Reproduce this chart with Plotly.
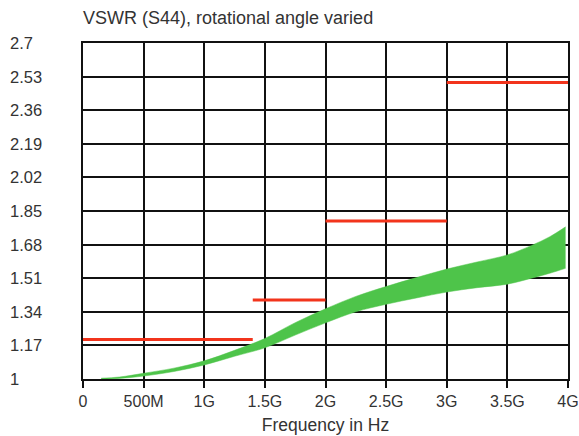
import plotly.graph_objects as go

# ---- data ----
freq_ghz = [0.15, 0.3, 0.5, 0.75, 1.0, 1.25, 1.5, 1.75, 2.0, 2.25, 2.5, 2.75, 3.0, 3.25, 3.5, 3.7, 3.85, 3.98]
vswr_upper = [1.004, 1.010, 1.029, 1.055, 1.092, 1.145, 1.205, 1.285, 1.355, 1.418, 1.468, 1.513, 1.556, 1.592, 1.628, 1.676, 1.72, 1.77]
vswr_lower = [1.000, 1.003, 1.015, 1.038, 1.071, 1.115, 1.158, 1.222, 1.284, 1.340, 1.378, 1.41, 1.44, 1.462, 1.48, 1.51, 1.535, 1.56]

limit_start = [0.0, 1.4, 2.0, 3.0]
limit_end = [1.4, 2.0, 3.0, 4.0]
limit_value = [1.2, 1.4, 1.8, 2.5]

x_tick_vals = [0, 0.5, 1.0, 1.5, 2.0, 2.5, 3.0, 3.5, 4.0]
x_tick_text = ["0", "500M", "1G", "1.5G", "2G", "2.5G", "3G", "3.5G", "4G"]
y_tick_vals = [1, 1.17, 1.34, 1.51, 1.68, 1.85, 2.02, 2.19, 2.36, 2.53, 2.7]
y_tick_text = ["1", "1.17", "1.34", "1.51", "1.68", "1.85", "2.02", "2.19", "2.36", "2.53", "2.7"]

title_text = "VSWR (S44), rotational angle varied"
x_title = "Frequency in Hz"

# ---- style ----
FONT = "Liberation Sans, Arial, sans-serif"
TXT = "#333333"
GREEN = "#4ec44a"
RED = "#f2341c"
W, H = 579, 436
ML, MR, MT, MB = 83, 11, 43, 57
plot_w = W - ML - MR

fig = go.Figure()

# green band (lower edge, then upper edge filled to it)
fig.add_trace(go.Scatter(x=freq_ghz, y=vswr_lower, mode="lines",
                         line=dict(width=0.5, color=GREEN, shape="spline"), showlegend=False, hoverinfo="skip"))
fig.add_trace(go.Scatter(x=freq_ghz, y=vswr_upper, mode="lines", fill="tonexty",
                         fillcolor=GREEN, line=dict(width=0.5, color=GREEN, shape="spline"), showlegend=False))

# red limit lines
lx, ly = [], []
for s, e, v in zip(limit_start, limit_end, limit_value):
    lx += [s, e, None]
    ly += [v, v, None]
fig.add_trace(go.Scatter(x=lx, y=ly, mode="lines", line=dict(color=RED, width=3),
                         showlegend=False, connectgaps=False))

# y tick dashes (detached from axis)
dash_x = -0.087
fig.add_trace(go.Scatter(x=[dash_x] * len(y_tick_vals), y=y_tick_vals, mode="markers",
                         marker=dict(symbol="line-ew", size=6, line=dict(width=2, color="#111111")),
                         cliponaxis=False, showlegend=False, hoverinfo="skip"))

for v, t in zip(y_tick_vals, y_tick_text):
    fig.add_annotation(x=(8 - ML) / plot_w, xref="paper", xanchor="left",
                       y=v, yref="y", yanchor="middle", text=t, showarrow=False,
                       font=dict(family=FONT, size=16.5, color=TXT))

fig.update_layout(
    width=W, height=H,
    margin=dict(l=ML, r=MR, t=MT, b=MB, autoexpand=False),
    paper_bgcolor="white", plot_bgcolor="white",
    title=dict(text=title_text, x=0, xanchor="left", xref="paper",
               y=1 - 18 / H, yanchor="middle", yref="container",
               font=dict(family=FONT, size=18, color=TXT)),
    showlegend=False,
)

fig.update_xaxes(range=[0, 4], tickvals=x_tick_vals, ticktext=x_tick_text,
                 showgrid=True, gridcolor="#111111", gridwidth=1.6,
                 showline=True, linecolor="#111111", linewidth=2, mirror=True,
                 ticks="outside", ticklen=7, tickwidth=2, tickcolor="#111111",
                 tickfont=dict(family=FONT, size=16, color=TXT), ticklabeloverflow="allow",
                 title=dict(text=x_title, font=dict(family=FONT, size=17.5, color=TXT), standoff=10),
                 zeroline=False, fixedrange=True, automargin=False)
fig.update_yaxes(range=[1, 2.7], tickvals=y_tick_vals, showticklabels=False,
                 showgrid=True, gridcolor="#111111", gridwidth=1.6,
                 showline=True, linecolor="#111111", linewidth=2, mirror=True,
                 ticks="", zeroline=False, fixedrange=True, automargin=False)

fig.write_html("out.html", config={"displayModeBar": False},
               post_script="document.documentElement.style.overflow='hidden';"
                           "document.body.style.overflow='hidden';"
                           "document.body.style.margin='0';")
